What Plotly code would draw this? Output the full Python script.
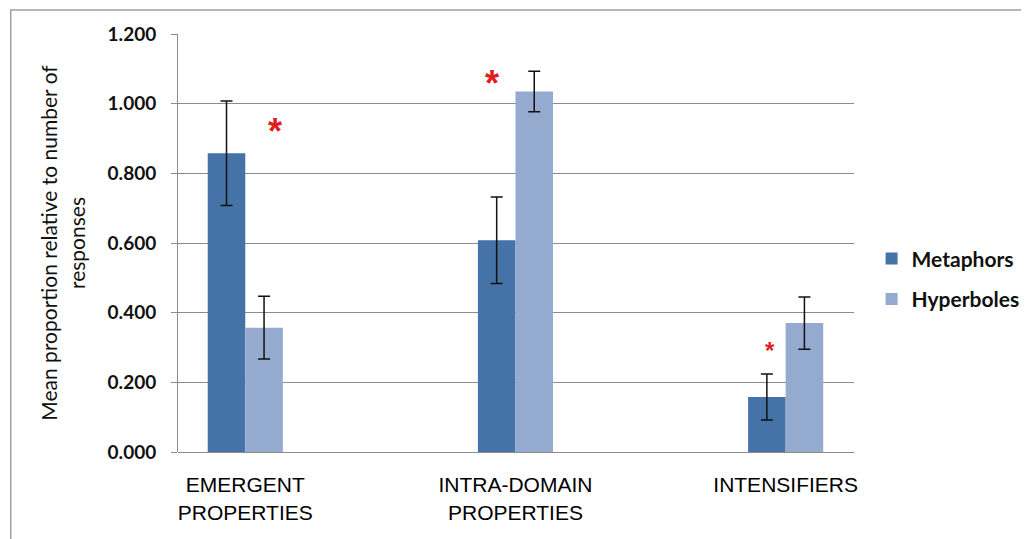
import plotly.graph_objects as go

categories = ["EMERGENT<br>PROPERTIES", "INTRA-DOMAIN<br>PROPERTIES", "INTENSIFIERS"]
series_names = ["Metaphors", "Hyperboles"]
metaphors = [0.858, 0.608, 0.158]
metaphors_err = [0.150, 0.124, 0.066]
hyperboles = [0.357, 1.035, 0.370]
hyperboles_err = [0.090, 0.058, 0.075]
y_ticks = [0.0, 0.2, 0.4, 0.6, 0.8, 1.0, 1.2]

# significance markers: (category position, y value, font size)
star_x = [0.110, 0.912, 1.942]
star_y = [0.920, 1.058, 0.292]
star_size = [36, 36, 24]

colors = ["#4572A7", "#94AACF"]

fig = go.Figure()
for name, vals, errs, col in zip(series_names, [metaphors, hyperboles],
                                 [metaphors_err, hyperboles_err], colors):
    fig.add_trace(go.Bar(
        x=list(range(len(categories))), y=vals, name=name, legendgroup=name,
        marker=dict(color=col, line=dict(width=0)),
        error_y=dict(type="data", array=errs, visible=True,
                     color="#111111", thickness=1.5, width=6),
    ))

for sx, sy, ss in zip(star_x, star_y, star_size):
    fig.add_annotation(x=sx, y=sy, text="<b>*</b>", showarrow=False,
                       font=dict(size=ss, color="#E01E1E", family="Liberation Sans"),
                       xanchor="center", yanchor="middle")

fig.update_layout(
    width=1029, height=539,
    margin=dict(l=170, r=176, t=26, b=95),
    paper_bgcolor="white", plot_bgcolor="white",
    barmode="group", bargap=0.722, bargroupgap=0,
    showlegend=True,
    legend=dict(x=1.026, y=0.414, xanchor="left", yanchor="middle",
                font=dict(family="Lato", size=21, color="#111111", weight="bold"),
                tracegroupgap=10, itemwidth=30),
    shapes=[dict(type="rect", xref="paper", yref="paper",
                 x0=-0.2474, x1=1.4, y0=-0.4, y1=1.0574,
                 line=dict(color="#A0A0A0", width=1.5), layer="below")],
)

fig.update_xaxes(
    range=[-0.249, 2.253], tickmode="array",
    tickvals=list(range(len(categories))), ticktext=categories,
    tickfont=dict(family="Liberation Sans", size=21, color="#000000"),
    ticks="outside", ticklen=14, tickcolor="rgba(0,0,0,0)",
    showgrid=False, showline=False, zeroline=False,
)
fig.update_yaxes(
    range=[0, 1.2], tickmode="array", tickvals=y_ticks,
    ticktext=[f"{v:.3f}" for v in y_ticks],
    tickfont=dict(family="Lato", size=19, color="#111111", weight="bold"),
    ticks="outside", ticklen=6, tickcolor="#8C8C8C", ticklabelstandoff=11,
    showgrid=True, gridcolor="#8C8C8C", gridwidth=1,
    showline=True, linecolor="#8C8C8C", linewidth=1,
    zeroline=True, zerolinecolor="#8C8C8C", zerolinewidth=1,
    title=dict(text="Mean proportion relative to number of<br>responses",
               font=dict(family="Lato", size=21, color="#111111"), standoff=16),
)

fig.write_html("out.html")
